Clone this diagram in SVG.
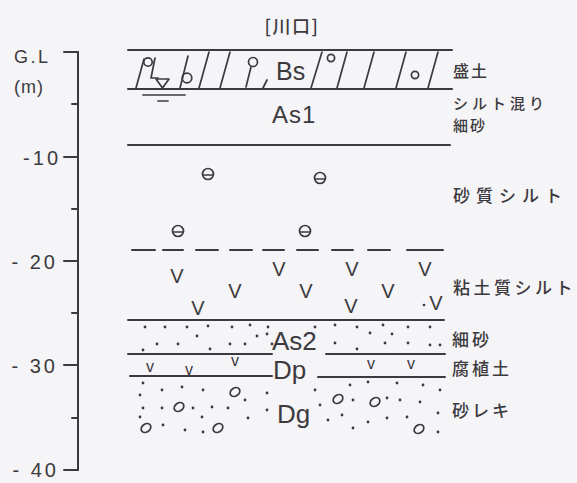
<svg xmlns="http://www.w3.org/2000/svg" width="577" height="483" viewBox="0 0 577 483">
  <defs>
    <style>
      .ln { stroke: #3c3a3e; stroke-width: 2; fill: none; stroke-linecap: round; }
      .thin { stroke: #3c3a3e; stroke-width: 1.7; fill: none; stroke-linecap: round; stroke-linejoin: round; }
      .lbl { font-family: "Liberation Sans", "DejaVu Sans", sans-serif; fill: #3c3a3e; }
      .jp { font-family: "Noto Sans CJK JP", "Noto Sans", sans-serif; fill: #3c3a3e; font-weight: 500; }
      .sym { font-family: "Liberation Sans", sans-serif; fill: #3c3a3e; font-size: 20px; text-anchor: middle; }
      .symv { font-family: "Liberation Sans", sans-serif; fill: #3c3a3e; font-size: 16px; text-anchor: middle; }
      .dot { fill: #3c3a3e; }
    </style>
    <!-- silt mark: circle with a horizontal bar -->
    <g id="siltMark">
      <circle cx="0" cy="0" r="5.5" class="thin"/>
      <line x1="-5" y1="1" x2="5" y2="1" class="thin"/>
    </g>
    <!-- gravel mark: tilted oval -->
    <ellipse id="pebble" cx="0" cy="0" rx="5.2" ry="4" transform="rotate(-35)" class="thin"/>
  </defs>

  <rect width="577" height="483" fill="#f5f4f6"/>

  <!-- title -->
  <text class="jp" x="292" y="33" font-size="18" letter-spacing="1.5" text-anchor="middle" font-weight="400">[川口]</text>

  <!-- depth axis -->
  <g id="axis">
    <path class="ln" d="M64,52 H78 V470 H64"/>
    <path class="ln" d="M64,157 H78 M64,261 H78 M64,365 H78"/>
    <path class="ln" d="M72,104 H78 M72,209 H78 M72,313 H78 M72,418 H78"/>
    <text class="lbl" x="14" y="63" font-size="18" letter-spacing="2.5">G.L</text>
    <text class="lbl" x="14" y="93" font-size="18" letter-spacing="1">(m)</text>
    <text class="lbl" x="61" y="165" font-size="20" letter-spacing="3" text-anchor="end">-10</text>
    <text class="lbl" x="58" y="269" font-size="20" letter-spacing="3" text-anchor="end">- 20</text>
    <text class="lbl" x="58" y="373" font-size="20" letter-spacing="3" text-anchor="end">- 30</text>
    <text class="lbl" x="59" y="477" font-size="20" letter-spacing="3" text-anchor="end">- 40</text>
  </g>

  <!-- Bs: fill -->
  <g id="layer-bs">
    <line class="ln" x1="128" y1="50" x2="452" y2="50"/>
    <line class="ln" x1="128" y1="89" x2="452" y2="89"/>
    <!-- hatching with pebble marks -->
    <path class="thin" d="M136,88 L144,59"/>
    <circle class="thin" cx="148" cy="62" r="4.2"/>
    <path class="thin" d="M155,58 L151,78 H158"/>
    <path class="thin" d="M156,79 H169 L162.5,88 Z"/>
    <path class="thin" d="M180,88 L188,56"/>
    <circle class="thin" cx="187" cy="78" r="4.8"/>
    <path class="thin" d="M199,88 L209,52"/>
    <path class="thin" d="M220,88 L230,52"/>
    <circle class="thin" cx="253" cy="62" r="4.5"/>
    <path class="thin" d="M251,67 L246,87"/>
    <path class="thin" d="M267,80 L263,88"/>
    <text class="lbl" x="276" y="80" font-size="25">Bs</text>
    <path class="thin" d="M311,88 L322,52"/>
    <circle class="thin" cx="331" cy="58" r="3.6"/>
    <path class="thin" d="M337,88 L347,52"/>
    <path class="thin" d="M364,88 L374,52"/>
    <path class="thin" d="M396,88 L406,52"/>
    <circle class="thin" cx="415" cy="75" r="3.6"/>
    <path class="thin" d="M428,88 L438,52"/>
    <!-- ground water level -->
    <path class="thin" d="M143,95 H185 M158,101 H168"/>
  </g>

  <!-- As1: silty fine sand -->
  <g id="layer-as1">
    <text class="lbl" x="272" y="123" font-size="24" letter-spacing="1">As1</text>
    <line class="ln" x1="128" y1="145" x2="450" y2="145"/>
  </g>

  <!-- sandy silt -->
  <g id="layer-sandy-silt">
    <use href="#siltMark" x="208" y="174"/>
    <use href="#siltMark" x="320" y="178"/>
    <use href="#siltMark" x="178" y="231"/>
    <use href="#siltMark" x="305" y="231"/>
    <path class="ln" d="M132,250 H155 M163,250 H183 M196,250 H218 M230,250 H252 M263,250 H284 M297,250 H318 M332,250 H353 M368,250 H390 M407,250 H443"/>
  </g>

  <!-- clayey silt -->
  <g id="layer-clayey-silt">
    <text class="sym" x="177" y="283">V</text>
    <text class="sym" x="198" y="315">V</text>
    <text class="sym" x="235" y="298">V</text>
    <text class="sym" x="279" y="276">V</text>
    <text class="sym" x="306" y="298">V</text>
    <text class="sym" x="352" y="276">V</text>
    <text class="sym" x="351" y="313">V</text>
    <text class="sym" x="388" y="298">V</text>
    <text class="sym" x="425" y="276">V</text>
    <text class="sym" x="436" y="310">V</text>
    <circle class="dot" cx="424" cy="305" r="1.3"/>
    <line class="ln" x1="128" y1="320" x2="444" y2="320"/>
  </g>

  <!-- As2: fine sand -->
  <g id="layer-as2">
    <g class="dot">
      <circle cx="145" cy="327" r="1.4"/><circle cx="165" cy="327" r="1.4"/><circle cx="187" cy="327" r="1.4"/>
      <circle cx="208" cy="326" r="1.4"/><circle cx="232" cy="327" r="1.4"/><circle cx="250" cy="325" r="1.4"/>
      <circle cx="268" cy="327" r="1.4"/><circle cx="197" cy="336" r="1.4"/><circle cx="257" cy="336" r="1.4"/>
      <circle cx="267" cy="334" r="1.4"/><circle cx="157" cy="344" r="1.4"/><circle cx="178" cy="344" r="1.4"/>
      <circle cx="230" cy="344" r="1.4"/><circle cx="245" cy="344" r="1.4"/><circle cx="272" cy="344" r="1.4"/>
      <circle cx="143" cy="350" r="1.4"/><circle cx="210" cy="349" r="1.4"/>
      <circle cx="315" cy="327" r="1.4"/><circle cx="335" cy="325" r="1.4"/><circle cx="357" cy="327" r="1.4"/>
      <circle cx="383" cy="325" r="1.4"/><circle cx="408" cy="327" r="1.4"/><circle cx="430" cy="327" r="1.4"/>
      <circle cx="370" cy="333" r="1.4"/><circle cx="392" cy="334" r="1.4"/><circle cx="335" cy="343" r="1.4"/>
      <circle cx="357" cy="349" r="1.4"/><circle cx="385" cy="343" r="1.4"/><circle cx="408" cy="343" r="1.4"/>
      <circle cx="430" cy="345" r="1.4"/><circle cx="440" cy="345" r="1.4"/>
    </g>
    <text class="lbl" x="272" y="350" font-size="26">As2</text>
    <path class="ln" d="M128,354 H272 M326,354 H445"/>
  </g>

  <!-- Dp: humus soil -->
  <g id="layer-dp">
    <text class="symv" x="150" y="372">v</text>
    <text class="symv" x="189" y="375">v</text>
    <text class="symv" x="235" y="366">v</text>
    <text class="symv" x="371" y="369">v</text>
    <text class="symv" x="411" y="369">v</text>
    <text class="lbl" x="273" y="379" font-size="26">Dp</text>
    <path class="ln" d="M130,376 H272 M318,377 H445"/>
  </g>

  <!-- Dg: sandy gravel -->
  <g id="layer-dg">
    <g class="dot">
      <circle cx="143" cy="383" r="1.4"/><circle cx="162" cy="390" r="1.4"/><circle cx="182" cy="387" r="1.4"/>
      <circle cx="203" cy="390" r="1.4"/><circle cx="140" cy="395" r="1.4"/><circle cx="245" cy="400" r="1.4"/>
      <circle cx="267" cy="393" r="1.4"/><circle cx="143" cy="408" r="1.4"/><circle cx="162" cy="408" r="1.4"/>
      <circle cx="193" cy="408" r="1.4"/><circle cx="212" cy="407" r="1.4"/><circle cx="228" cy="408" r="1.4"/>
      <circle cx="267" cy="410" r="1.4"/><circle cx="140" cy="417" r="1.4"/><circle cx="202" cy="417" r="1.4"/>
      <circle cx="248" cy="418" r="1.4"/><circle cx="163" cy="425" r="1.4"/><circle cx="185" cy="430" r="1.4"/>
      <circle cx="203" cy="432" r="1.4"/>
      <circle cx="315" cy="390" r="1.4"/><circle cx="350" cy="385" r="1.4"/><circle cx="368" cy="382" r="1.4"/>
      <circle cx="397" cy="383" r="1.4"/><circle cx="423" cy="385" r="1.4"/><circle cx="440" cy="390" r="1.4"/>
      <circle cx="320" cy="405" r="1.4"/><circle cx="353" cy="400" r="1.4"/><circle cx="387" cy="398" r="1.4"/>
      <circle cx="400" cy="400" r="1.4"/><circle cx="420" cy="402" r="1.4"/><circle cx="438" cy="413" r="1.4"/>
      <circle cx="328" cy="420" r="1.4"/><circle cx="342" cy="415" r="1.4"/><circle cx="353" cy="428" r="1.4"/>
      <circle cx="368" cy="422" r="1.4"/><circle cx="387" cy="418" r="1.4"/><circle cx="407" cy="417" r="1.4"/>
      <circle cx="438" cy="432" r="1.4"/>
    </g>
    <use href="#pebble" x="235" y="392"/>
    <use href="#pebble" x="179" y="407"/>
    <use href="#pebble" x="146" y="428"/>
    <use href="#pebble" x="218" y="428"/>
    <use href="#pebble" x="338" y="399"/>
    <use href="#pebble" x="375" y="402"/>
    <use href="#pebble" x="419" y="429"/>
    <text class="lbl" x="277" y="423" font-size="26">Dg</text>
  </g>

  <!-- soil names -->
  <g id="soil-names">
    <text class="jp" x="453" y="77" font-size="16" letter-spacing="2">盛土</text>
    <text class="jp" x="453" y="109" font-size="15" letter-spacing="4">シルト混り</text>
    <text class="jp" x="453" y="131" font-size="15" letter-spacing="2">細砂</text>
    <text class="jp" x="453" y="202" font-size="17" letter-spacing="6">砂質シルト</text>
    <text class="jp" x="453" y="294" font-size="17" letter-spacing="3.5">粘土質シルト</text>
    <text class="jp" x="452" y="346" font-size="17" letter-spacing="3">細砂</text>
    <text class="jp" x="452" y="375" font-size="17" letter-spacing="3">腐植土</text>
    <text class="jp" x="452" y="417" font-size="17" letter-spacing="3">砂レキ</text>
  </g>
</svg>
